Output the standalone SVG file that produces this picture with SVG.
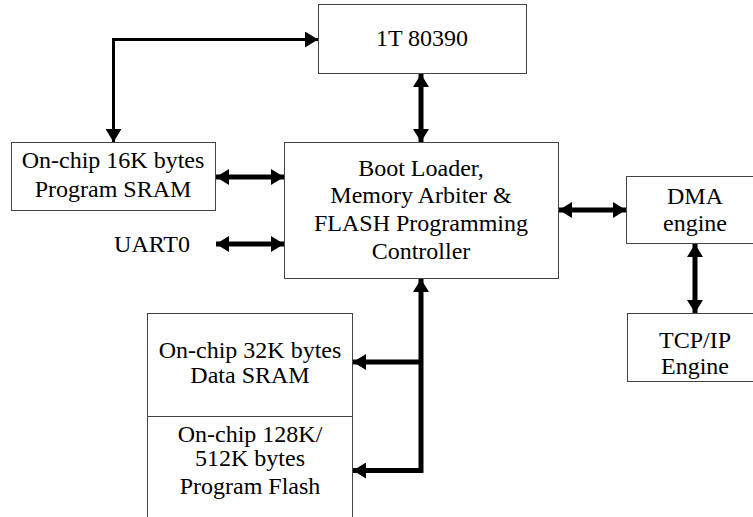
<svg xmlns="http://www.w3.org/2000/svg" width="753" height="517" viewBox="0 0 753 517">
<defs>
<style>
.box{fill:#fff;stroke:#444;stroke-width:1}
.t{font-family:'Liberation Serif','Times New Roman','DejaVu Serif',serif;font-size:24px;fill:#000;text-anchor:middle}
.thick{stroke:#000;stroke-width:5;fill:none}
.thin{stroke:#000;stroke-width:3;fill:none}
</style>
<marker id="ah" markerUnits="userSpaceOnUse" markerWidth="14" markerHeight="16" refX="13" refY="8" orient="auto-start-reverse" viewBox="0 0 14 16">
<path d="M0,0 L13,8 L0,16 z" fill="#000"/>
</marker>
</defs>
<rect width="753" height="517" fill="#fff"/>
<g font-family="Liberation Serif, Times New Roman, serif">
<g id="cpu"><rect class="box" x="318.5" y="4.5" width="208" height="69"/><text class="t" x="422" y="46">1T 80390</text></g>
<g id="sram16"><rect class="box" x="11.5" y="142.5" width="204" height="68"/><text class="t" x="113" y="168">On-chip 16K bytes</text><text class="t" x="113" y="197">Program SRAM</text></g>
<g id="boot"><rect class="box" x="284.5" y="142.5" width="274" height="136"/><text class="t" x="421" y="176">Boot Loader,</text><text class="t" x="421" y="203">Memory Arbiter &amp;</text><text class="t" x="421" y="231">FLASH Programming</text><text class="t" x="421" y="259">Controller</text></g>
<g id="uart"><text class="t" x="152" y="252">UART0</text></g>
<g id="dma"><rect class="box" x="626.5" y="176.5" width="130" height="67"/><text class="t" x="695" y="204">DMA</text><text class="t" x="695" y="231">engine</text></g>
<g id="tcp"><rect class="box" x="627.5" y="313.5" width="130" height="68"/><text class="t" x="695" y="348">TCP/IP</text><text class="t" x="695" y="374">Engine</text></g>
<g id="sram32"><rect class="box" x="147.5" y="313.5" width="205" height="103"/><text class="t" x="250" y="358">On-chip 32K bytes</text><text class="t" x="250" y="383">Data SRAM</text></g>
<g id="flash"><rect class="box" x="147.5" y="416.5" width="205" height="120"/><text class="t" x="250" y="442">On-chip 128K/</text><text class="t" x="250" y="466">512K bytes</text><text class="t" x="250" y="494">Program Flash</text></g>
</g>
<g id="connectors">
<polyline class="thin" points="318,39.5 113.5,39.5 113.5,142" marker-start="url(#ah)" marker-end="url(#ah)"/>
<line class="thick" x1="421" y1="74" x2="421" y2="142" marker-start="url(#ah)" marker-end="url(#ah)"/>
<line class="thick" x1="216" y1="177" x2="284" y2="177" marker-start="url(#ah)" marker-end="url(#ah)"/>
<line class="thick" x1="216" y1="244" x2="284" y2="244" marker-start="url(#ah)" marker-end="url(#ah)"/>
<line class="thick" x1="559" y1="210" x2="626" y2="210" marker-start="url(#ah)" marker-end="url(#ah)"/>
<line class="thick" x1="695" y1="244" x2="695" y2="313" marker-start="url(#ah)" marker-end="url(#ah)"/>
<polyline class="thick" points="421,279 421,470.5 353,470.5" marker-start="url(#ah)" marker-end="url(#ah)"/>
<line class="thick" x1="421" y1="362" x2="353" y2="362" marker-end="url(#ah)"/>
</g>
</svg>
